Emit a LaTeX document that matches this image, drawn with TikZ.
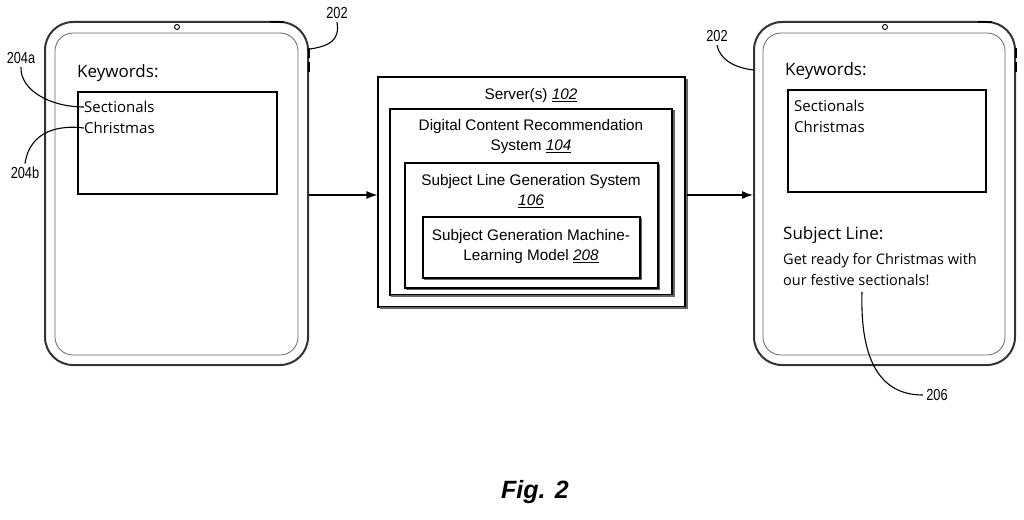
\documentclass[tikz,border=0pt]{standalone}
\usepackage{fontspec}
\setmainfont{Liberation Sans}
\newfontfamily\os{Open Sans}
\usetikzlibrary{arrows.meta}
\begin{document}
\begin{tikzpicture}[x=1pt,y=-1pt,
  tab/.style={draw=black!80,line width=2pt,rounded corners=28pt},
  scr/.style={draw=black!60,line width=0.8pt,rounded corners=18pt},
  kbox/.style={draw,line width=1.1pt},
  txt/.style={font=\os\fontsize{15}{18}\selectfont,anchor=west,inner sep=0},
  btxt/.style={font=\fontsize{15.3}{20}\selectfont,align=center,inner sep=0},
  lbl/.style={font=\fontsize{16}{18}\selectfont\addfontfeature{FakeStretch=0.8}},
  lead/.style={line width=1.1pt},
  arr/.style={line width=1.3pt,-{Latex[length=11pt,width=8pt]}}]
\useasboundingbox (0,0) rectangle (1024,519);
% left tablet
\node[tab,minimum width=263pt,minimum height=343pt,inner sep=0] (t1) at (176.5,193.5) {};
\draw[scr] (55,33) rectangle (298,355);
\draw[line width=0.9pt] (177,27) circle (2.5pt);
\draw[line width=2.2pt] (270,22) -- (284,22);
\draw[line width=2.2pt] (309,48) -- (309,58) (309,62) -- (309,72);
\node[txt,font=\os\fontsize{17}{20}\selectfont] at (77,73) {Keywords:};
\node[kbox,minimum width=199pt,minimum height=102pt,inner sep=0] (k1) at (177.5,143) {};
\node[txt] (s1) at (84,107) {Sectionals};
\node[txt] (c1) at (84,128) {Christmas};
% right tablet
\node[tab,minimum width=261pt,minimum height=343pt,inner sep=0] (t2) at (884.5,193.5) {};
\draw[scr] (763,33) rectangle (1005,355);
\draw[line width=0.9pt] (885,27) circle (2.5pt);
\draw[line width=2.2pt] (978,22) -- (992,22);
\draw[line width=2.2pt] (1016,48) -- (1016,58) (1016,62) -- (1016,72);
\node[txt,font=\os\fontsize{17}{20}\selectfont] at (785,71) {Keywords:};
\node[kbox,minimum width=198pt,minimum height=102pt,inner sep=0] (k2) at (887,141) {};
\node[txt] at (794,106) {Sectionals};
\node[txt] at (794,127) {Christmas};
\node[txt,font=\os\fontsize{17}{20}\selectfont] at (783,235) {Subject Line:};
\node[txt,align=left,anchor=north west,font=\os\fontsize{14.5}{21}\selectfont] (sl) at (783,253) {Get ready for Christmas with\\our festive sectionals!};
% server boxes
\node[draw,line width=1.2pt,minimum width=307pt,minimum height=230pt,inner sep=0] (srv) at (531.5,192) {};
\draw[line width=1.8pt,black!60] (380,308) -- (687,308) -- (687,79);
\node[btxt] at (531,96) {Server(s) \underline{\textit{102}}};
\node[draw,line width=1.2pt,minimum width=282pt,minimum height=186pt,inner sep=0] (dcr) at (531,202) {};
\draw[line width=1.8pt,black!60] (391,296) -- (674,296) -- (674,110);
\node[btxt] at (531,137) {Digital Content Recommendation\\System \underline{\textit{104}}};
\node[draw,line width=1.2pt,minimum width=253pt,minimum height=125pt,inner sep=0] (slg) at (531.5,225.5) {};
\draw[line width=1.8pt,black!60] (406,289.5) -- (659.5,289.5) -- (659.5,164);
\node[btxt] at (531,191) {Subject Line Generation System\\\underline{\textit{106}}};
\node[draw,line width=1.2pt,minimum width=217pt,minimum height=61pt,inner sep=0] (mdl) at (531.5,247.5) {};
\draw[line width=1.8pt,black!60] (424,279.5) -- (641.5,279.5) -- (641.5,218);
\node[btxt] at (531,247) {Subject Generation Machine-\\Learning Model \underline{\textit{208}}};
% arrows
\coordinate (a1) at (309,195);
\coordinate (a2) at (687,195);
\draw[arr] (a1) -- (srv.west |- a1);
\draw[arr] (a2) -- (t2.west |- a2);
% leaders
\node[lbl] (l202a) at (337,13) {202};
\node[lbl] (l202b) at (717,36) {202};
\node[lbl] (l204a) at (21,58) {204a};
\node[lbl] (l204b) at (25,173) {204b};
\node[lbl] (l206) at (937,395) {206};
\draw[lead] (l202a.south) .. controls (340,40) and (330,46) .. (310,49);
\draw[lead] (l202b.south) .. controls (720,60) and (735,68) .. (754,70);
\draw[lead] (l204a.south) .. controls (20,90) and (50,107) .. (s1.west);
\draw[lead] (l204b.north) .. controls (30,130) and (60,125) .. (c1.west);
\draw[lead] (862,292) .. controls (860,360) and (880,395) .. (l206.west);
\node[font=\fontsize{25}{28}\selectfont\bfseries\itshape] at (535,492) {Fig. 2};
\end{tikzpicture}
\end{document}
